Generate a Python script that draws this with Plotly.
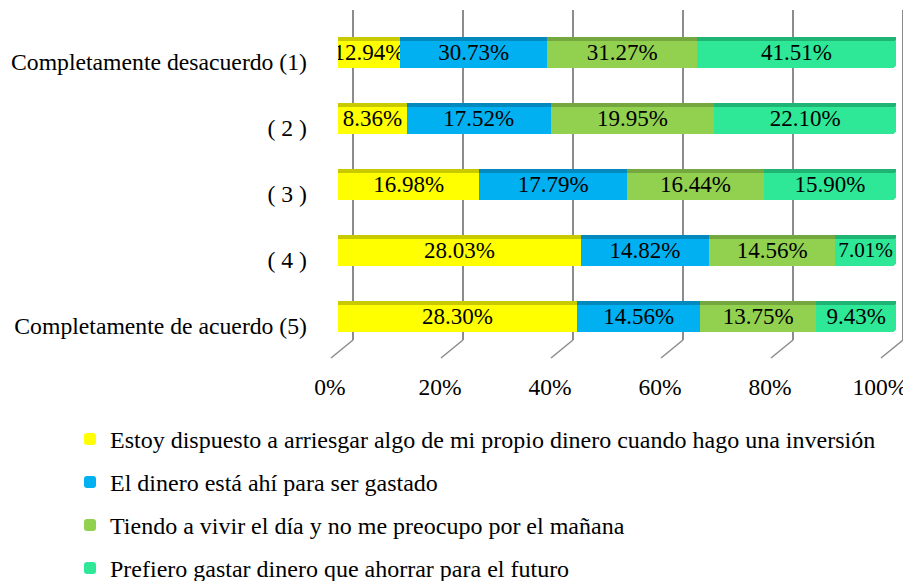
import plotly.graph_objects as go

categories = ["Completamente desacuerdo (1)", "( 2 )", "( 3 )", "( 4 )",
              "Completamente de acuerdo (5)"]
series_names = [
    "Estoy dispuesto a arriesgar algo de mi propio dinero cuando hago una inversión",
    "El dinero está ahí para ser gastado",
    "Tiendo a vivir el día y no me preocupo por el mañana",
    "Prefiero gastar dinero que ahorrar para el futuro",
]
s1 = [12.94, 8.36, 16.98, 28.03, 28.30]
s2 = [30.73, 17.52, 17.79, 14.82, 14.56]
s3 = [31.27, 19.95, 16.44, 14.56, 13.75]
s4 = [41.51, 22.10, 15.90, 7.01, 9.43]
series_values = [s1, s2, s3, s4]
tick_values = [0, 20, 40, 60, 80, 100]

colors = ["#FFFF00", "#00B0F0", "#92D050", "#2EE898"]
top_colors = ["#C9C900", "#0489BE", "#74A83E", "#20B474"]

# the page body has an 8px margin, so the figure is offset by 8px
OFF = 8
W, H = 911 - OFF, 600
FONT = "Liberation Serif, Times New Roman, serif"


def px_x(a, b):
    return [(a - OFF) / W, (b - OFF) / W]


def px_y(top, bottom):
    return [1 - (bottom - OFF) / H, 1 - (top - OFF) / H]


GRID_RANGE = [-4, 101]
HIDDEN = dict(showgrid=False, showticklabels=False, zeroline=False,
              showline=False, ticks="", automargin=False)

fig = go.Figure()

# main bars (subplot x2y2)
for name, vals, col in zip(series_names, series_values, colors):
    fig.add_trace(go.Bar(
        y=categories, x=vals, orientation="h", name=name,
        marker=dict(color=col, line=dict(width=0)),
        text=[f"{v:.2f}%" for v in vals], textposition="inside",
        insidetextanchor="middle", textangle=0, constraintext="none",
        textfont=dict(family=FONT, size=23, color="black"),
        xaxis="x2", yaxis="y2", width=0.47,
        legendgroup=name, hoverinfo="skip",
    ))

# darker top faces (3D look), stacked separately on an overlay axis
for name, vals, col in zip(series_names, series_values, top_colors):
    fig.add_trace(go.Bar(
        y=categories, x=vals, orientation="h", name=name,
        marker=dict(color=col, line=dict(width=0)),
        xaxis="x2", yaxis="y4", width=0.055, offset=-0.235,
        showlegend=False, legendgroup=name, hoverinfo="skip",
    ))

# invisible carriers so the grid axes (x/y) and label axes (x3/y3) are drawn
fig.add_trace(go.Scatter(
    x=tick_values, y=[0.5] * len(tick_values), mode="none",
    xaxis="x", yaxis="y", showlegend=False, hoverinfo="skip",
))
fig.add_trace(go.Scatter(
    y=categories, x=s1, mode="none", xaxis="x3", yaxis="y3",
    showlegend=False, hoverinfo="skip",
))

shapes = []
span = GRID_RANGE[1] - GRID_RANGE[0]
for t in tick_values:
    shapes.append(dict(
        type="line", xref="x domain", yref="paper",
        xsizemode="pixel", ysizemode="pixel",
        xanchor=(t - GRID_RANGE[0]) / span, yanchor=px_y(10, 340)[0],
        x0=0, y0=0, x1=-22, y1=-18,
        line=dict(color="#8c8c8c", width=1.5),
    ))

fig.update_layout(
    width=W, height=H,
    margin=dict(l=0, r=0, t=0, b=0, autoexpand=False),
    paper_bgcolor="white", plot_bgcolor="rgba(0,0,0,0)",
    barmode="stack", barnorm="percent",
    barcornerradius=4,
    font=dict(family=FONT, size=23, color="black"),
    showlegend=True,
    # gridlines subplot
    xaxis=dict(domain=px_x(353 + GRID_RANGE[0] * 5.5, 353 + GRID_RANGE[1] * 5.5),
               range=GRID_RANGE, anchor="y",
               showgrid=True, gridcolor="#8c8c8c", gridwidth=1.5,
               tickvals=tick_values, showticklabels=False, zeroline=False,
               showline=False, ticks="", automargin=False),
    yaxis=dict(domain=px_y(10, 340), range=[0, 1], anchor="x", **HIDDEN),
    # bars subplot
    xaxis2=dict(domain=px_x(338, 896), range=[0, 100], anchor="y2", **HIDDEN),
    yaxis2=dict(domain=px_y(19.5, 349.5), anchor="x2", type="category",
                categoryorder="array", categoryarray=categories,
                range=[4.5, -0.5], **HIDDEN),
    yaxis4=dict(overlaying="y2", anchor="x2", type="category",
                categoryorder="array", categoryarray=categories,
                range=[4.5, -0.5], **HIDDEN),
    # label subplot
    xaxis3=dict(domain=px_x(330, 880), range=[0, 100], anchor="y3",
                tickvals=tick_values, ticktext=[f"{t}%" for t in tick_values],
                showgrid=False, zeroline=False, showline=False, ticks="",
                ticklabelstandoff=12, automargin=False,
                tickfont=dict(family=FONT, size=23.5, color="black")),
    yaxis3=dict(domain=px_y(28.5, 358.5), anchor="x3", type="category",
                categoryorder="array", categoryarray=categories,
                range=[4.5, -0.5], tickvals=categories,
                showgrid=False, zeroline=False, showline=False, ticks="",
                ticklabelstandoff=22, automargin=False,
                tickfont=dict(family=FONT, size=23.7, color="black")),
    legend=dict(x=(70 - OFF) / W, y=1 - (417 - OFF) / H,
                xanchor="left", yanchor="top",
                orientation="v", traceorder="grouped", tracegroupgap=8.8,
                font=dict(family=FONT, size=24, color="black"),
                bgcolor="rgba(0,0,0,0)"),
    shapes=shapes,
)

fig.write_html("out.html")
